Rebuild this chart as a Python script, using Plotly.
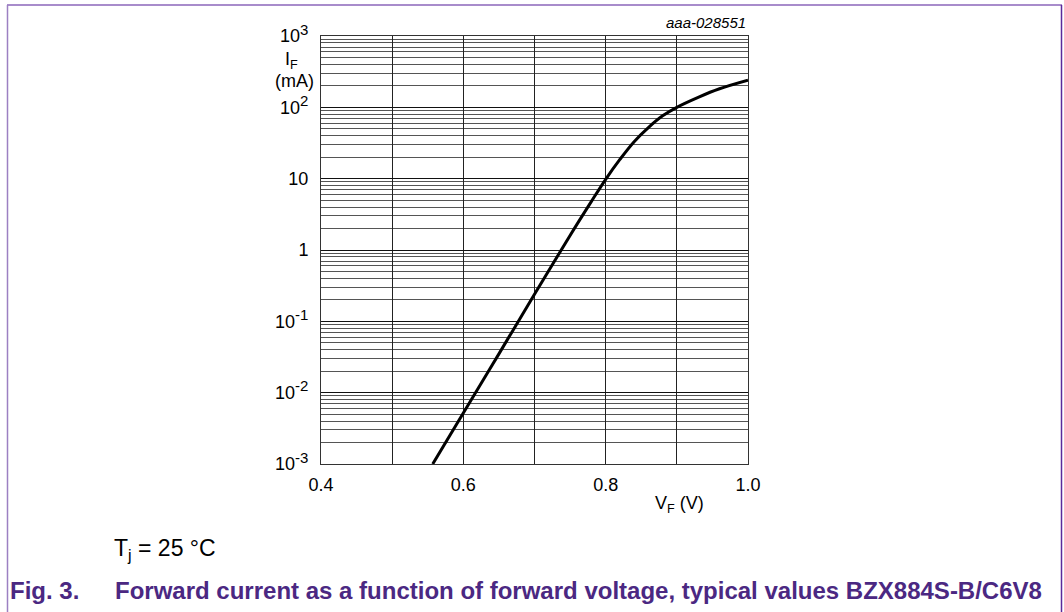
import plotly.graph_objects as go

# Data
vf = [0.557, 0.6, 0.65, 0.7, 0.75, 0.78, 0.8, 0.82, 0.84, 0.86, 0.88, 0.9, 0.93, 0.96, 1.0]
i_f = [1e-3, 5.2e-3, 0.035, 0.24, 1.6, 4.8, 9.8, 18.6, 33, 52, 76, 100, 138, 182, 240]

x_grid = [0.4, 0.5, 0.6, 0.7, 0.8, 0.9, 1.0]
x_labels = ["0.4", "", "0.6", "", "0.8", "", "1.0"]
y_ticks = [1e-3, 1e-2, 1e-1, 1, 10, 100, 1000]
y_labels = ["10<sup><span style='font-size:15px'>-3</span></sup>",
            "10<sup><span style='font-size:15px'>-2</span></sup>",
            "10<sup><span style='font-size:15px'>-1</span></sup>", "1", "10",
            "10<sup><span style='font-size:15px'>2</span></sup>",
            "10<sup><span style='font-size:15px'>3</span></sup>"]

FONT = "Liberation Sans, Arial, sans-serif"
PURPLE = "#4b2882"

L, R, T, B = 321, 748, 36, 464
W, H = 1064, 612


def px(x):
    return (x - L) / (R - L)


def py(y):
    return (B - y) / (B - T)


fig = go.Figure()
fig.add_trace(go.Scatter(x=vf, y=i_f, mode="lines",
                         line=dict(color="black", width=3, shape="spline", smoothing=1.0),
                         showlegend=False, hoverinfo="skip"))

fig.update_xaxes(range=[0.4, 1.0], tickvals=x_grid, ticktext=x_labels,
                 showgrid=True, gridcolor="#222", gridwidth=1,
                 showline=True, linecolor="#333", linewidth=1, mirror=True,
                 ticks="", zeroline=False, ticklabelstandoff=4,
                 tickfont=dict(family=FONT, size=18, color="black"))
fig.update_yaxes(type="log", range=[-3, 3], tickvals=y_ticks, ticktext=y_labels,
                 showgrid=True, gridcolor="#111", gridwidth=1,
                 minor=dict(dtick="D1", showgrid=True, gridcolor="#555", gridwidth=1, ticks=""),
                 showline=True, linecolor="#333", linewidth=1, mirror=True,
                 ticks="", ticklabelstandoff=8, zeroline=False,
                 tickfont=dict(family=FONT, size=18, color="black"))

ann = [
    dict(x=px(291), y=py(60), text="I<sub>F</sub>", xanchor="center", yanchor="middle",
         font=dict(family=FONT, size=18, color="black")),
    dict(x=px(294), y=py(81), text="(mA)", xanchor="center", yanchor="middle",
         font=dict(family=FONT, size=18, color="black")),
    dict(x=px(706), y=py(504), text="V<sub>F</sub> (V)", xanchor="right", yanchor="middle",
         font=dict(family=FONT, size=18, color="black")),
    dict(x=px(748), y=py(22), text="<i>aaa-028551</i>", xanchor="right", yanchor="middle",
         font=dict(family=FONT, size=15, color="black")),
    dict(x=px(112), y=py(549), text="T<sub>j</sub> = 25 °C", xanchor="left", yanchor="middle",
         font=dict(family=FONT, size=23, color="black")),
    dict(x=px(8), y=py(590), text="<b>Fig. 3.</b>", xanchor="left", yanchor="middle",
         font=dict(family=FONT, size=24, color=PURPLE)),
    dict(x=px(113), y=py(590),
         text="<b>Forward current as a function of forward voltage, typical values BZX884S-B/C6V8</b>",
         xanchor="left", yanchor="middle",
         font=dict(family=FONT, size=24, color=PURPLE)),
]
for a in ann:
    a.update(xref="paper", yref="paper", showarrow=False)

shapes = [
    dict(type="line", xref="paper", yref="paper", x0=px(7), x1=px(1062), y0=py(5), y1=py(5),
         line=dict(color="#a88ccb", width=2)),
    dict(type="line", xref="paper", yref="paper", x0=px(7.5), x1=px(7.5), y0=py(5), y1=py(612),
         line=dict(color="#9c80c2", width=1.5)),
    dict(type="line", xref="paper", yref="paper", x0=px(1061.5), x1=px(1061.5), y0=py(5), y1=py(612),
         line=dict(color="#5b2a9a", width=1.5)),
]

fig.update_layout(width=W, height=H, margin=dict(l=L, r=W - R, t=T, b=H - B),
                  paper_bgcolor="white", plot_bgcolor="white",
                  annotations=ann, shapes=shapes,
                  font=dict(family=FONT))

fig.write_html("out.html")
